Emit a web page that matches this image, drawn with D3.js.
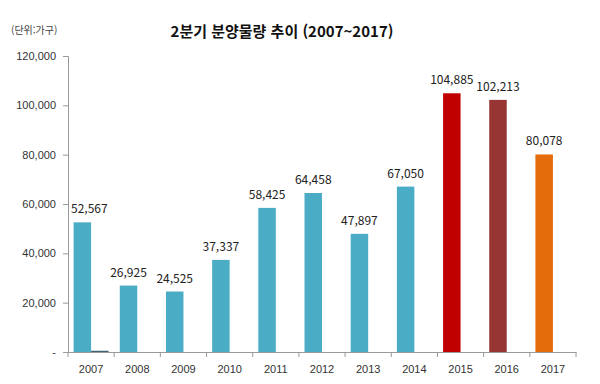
<!DOCTYPE html>
<html lang="ko">
<head>
<meta charset="UTF-8">
<title>2분기 분양물량 추이</title>
<script src="https://d3js.org/d3.v7.min.js"></script>
<style>
    body { margin: 0; background: #fff; }
    svg { font-family: "Noto Sans CJK KR", "Noto Sans", sans-serif; }
    .tick text { fill: #333; font-size: 11px; }
    .domain, .tick line { stroke: #9a9a9a; }
</style>
</head>
<body>
<svg width="600" height="384"></svg>
<script>
    const years = ["2007","2008","2009","2010","2011","2012","2013","2014","2015","2016","2017"];
    const supply = [52567, 26925, 24525, 37337, 58425, 64458, 47897, 67050, 104885, 102213, 80078];
    const second = [500, 0, 0, 0, 0, 0, 0, 0, 0, 0, 0];
    const barColors = ["#4bacc6","#4bacc6","#4bacc6","#4bacc6","#4bacc6","#4bacc6","#4bacc6","#4bacc6","#c00000","#973535","#e46c0a"];
    const yTicks = [0, 20000, 40000, 60000, 80000, 100000, 120000];

    const svg = d3.select("svg");
    const margin = {left: 68, right: 24, top: 56, bottom: 32};
    const width = 600, height = 384;

    const x = d3.scaleBand().domain(years).range([margin.left, width - margin.right]);
    const sub = d3.scaleBand().domain(["a", "b"]).range([0, x.bandwidth()]).paddingOuter(0.32);
    const y = d3.scaleLinear().domain([0, 120000]).range([height - margin.bottom, margin.top]);

    svg.append("text")
        .attr("x", 282).attr("y", 37)
        .attr("text-anchor", "middle")
        .attr("font-size", 15).attr("font-weight", "bold").attr("fill", "#111")
        .text("2분기 분양물량 추이 (2007~2017)");

    svg.append("text")
        .attr("x", 11).attr("y", 34)
        .attr("font-size", 10).attr("fill", "#444")
        .text("(단위:가구)");

    svg.append("g")
        .attr("transform", `translate(${margin.left},0)`)
        .call(d3.axisLeft(y).tickValues(yTicks).tickSize(5).tickPadding(11)
            .tickFormat(d => d === 0 ? "-" : d3.format(",")(d)))
        .call(g => g.selectAll(".tick text").attr("x", -12));

    const xAxis = svg.append("g")
        .attr("transform", `translate(0,${y(0)})`)
        .call(d3.axisBottom(x).tickSize(0).tickPadding(13));
    xAxis.selectAll(".tick text").attr("font-size", 11);
    xAxis.selectAll(".boundary")
        .data(years.concat(["end"]))
        .enter().append("line")
        .attr("class", "boundary")
        .attr("x1", (d, i) => margin.left + i * x.bandwidth())
        .attr("x2", (d, i) => margin.left + i * x.bandwidth())
        .attr("y1", 0).attr("y2", 5)
        .attr("stroke", "#9a9a9a");

    svg.append("g")
        .selectAll("rect")
        .data(supply)
        .enter().append("rect")
        .attr("x", (d, i) => x(years[i]) + sub("a"))
        .attr("y", d => y(d))
        .attr("width", sub.bandwidth())
        .attr("height", d => y(0) - y(d))
        .attr("fill", (d, i) => barColors[i]);

    svg.append("g")
        .selectAll("rect")
        .data(second)
        .enter().append("rect")
        .attr("x", (d, i) => x(years[i]) + sub("b"))
        .attr("y", d => y(d))
        .attr("width", sub.bandwidth())
        .attr("height", d => y(0) - y(d))
        .attr("fill", "#3d6470");

    svg.append("g")
        .selectAll("text")
        .data(supply)
        .enter().append("text")
        .attr("x", (d, i) => x(years[i]) + sub("a") + sub.bandwidth() / 2 + (i === 0 ? 7 : 0))
        .attr("y", d => y(d) - 9)
        .attr("text-anchor", "middle")
        .attr("font-size", 12).attr("fill", "#222")
        .text(d => d3.format(",")(d));
</script>
</body>
</html>
